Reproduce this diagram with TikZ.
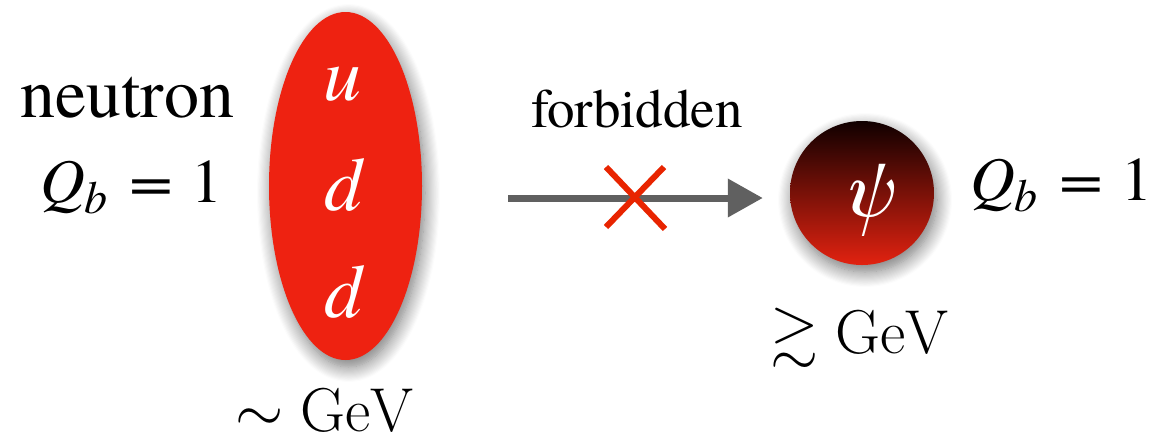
\documentclass[tikz,border=0pt]{standalone}
\usepackage{fix-cm}
\usepackage{amssymb}
\usepackage[no-math]{fontspec}
\setmainfont{texgyretermes}[Extension=.otf, UprightFont=*-regular,
  ItalicFont=*-italic, BoldFont=*-bold, BoldItalicFont=*-bolditalic]
\usetikzlibrary{shapes.geometric,shadows.blur,arrows.meta}

\definecolor{quarkred}{RGB}{238,34,17}
\definecolor{crossred}{RGB}{232,36,0}
\definecolor{arrowgray}{RGB}{96,96,96}
\definecolor{psitop}{RGB}{16,0,0}
\definecolor{psibottom}{RGB}{226,34,16}

\newcommand{\baryonnum}{\textit{Q}\raisebox{-11pt}{\fontsize{46}{50}\selectfont\textit{b}}%
  \hspace{0.35em}\scalebox{1.25}[1]{=}\hspace{0.3em}1}

\tikzset{
  label text/.style={font=\fontsize{62}{74}\selectfont, inner sep=0pt},
  mass text/.style={font=\fontsize{62}{74}\selectfont, inner sep=0pt, anchor=base},
  quark/.style={text=white, font=\fontsize{76}{90}\selectfont\itshape, inner sep=0pt},
  soft shadow/.style={blur shadow={shadow xshift=3pt, shadow yshift=-7pt,
      shadow blur radius=15pt, shadow blur steps=14, shadow opacity=55}},
}

\begin{document}
\begin{tikzpicture}[x=1pt,y=-1pt]
  \useasboundingbox (0,0) rectangle (1157,440);

  % neutron: three quarks in one blob
  \node[shape=ellipse, fill=quarkred, minimum width=153pt, minimum height=348pt,
        inner sep=0pt, soft shadow] (neutron) at (345.5,186) {};
  \node[quark, anchor=base] (u) at (342,100) {u};
  \node[quark, anchor=base] (d1) at (343,210) {d};
  \node[quark, anchor=base] (d2) at (343,317) {d};

  \node[font=\fontsize{70}{82}\selectfont, inner sep=0pt, anchor=base west] (name) at (20,117) {neutron};
  \node[label text, anchor=base west] (qleft) at (40,202) {\baryonnum};
  \node[mass text] (mleft) at (325,431) {$\sim\mathrm{GeV}$};

  % dark baryon
  \node[circle, minimum size=144pt, inner sep=0pt, top color=psitop, bottom color=psibottom,
        soft shadow] (psi) at (862,193) {};
  \node[quark, font=\fontsize{80}{92}\selectfont\itshape] (psisym) at (866,200) {ψ};
  \node[label text, anchor=base west] (qright) at (970,200) {\baryonnum};
  \node[mass text] (mright) at (860,353) {$\gtrsim\mathrm{GeV}$};

  % the decay that cannot happen
  \coordinate (start) at (508,198);
  \draw[arrowgray, line width=7pt, -{Triangle[length=35pt,width=37pt]}, shorten >=27pt]
    (start) -- (start -| psi.west);
  \node[font=\fontsize{55}{66}\selectfont, inner sep=0pt, anchor=base] (forbid) at (637,127) {forbidden};

  \coordinate (cross) at (635,198);
  \draw[crossred, line width=6pt] ([shift={(-29,-31)}]cross) -- ([shift={(30,31)}]cross);
  \draw[crossred, line width=6pt] ([shift={(-29,29)}]cross) -- ([shift={(29,-31)}]cross);
\end{tikzpicture}
\end{document}
